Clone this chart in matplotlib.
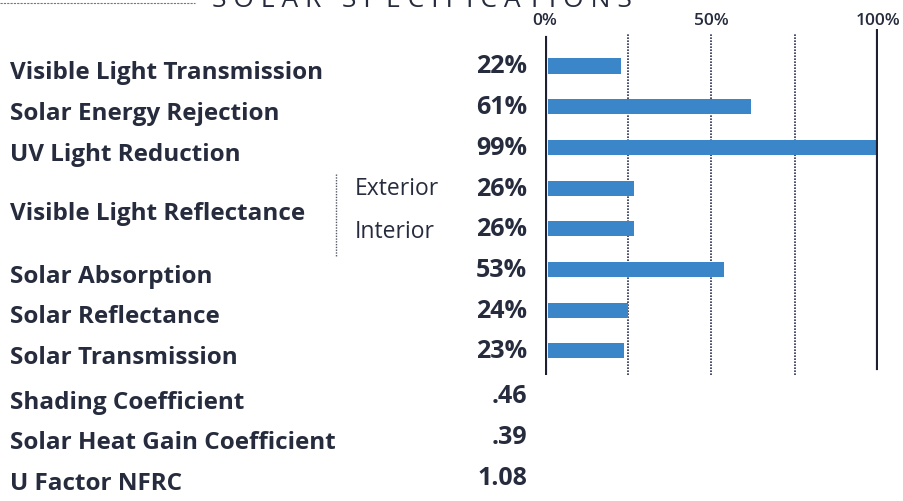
import matplotlib
matplotlib.use("Agg")
import matplotlib.pyplot as plt
from matplotlib.transforms import blended_transform_factory

# ---- data ----
bar_labels = ["Visible Light Transmission", "Solar Energy Rejection", "UV Light Reduction",
              "Exterior", "Interior", "Solar Absorption", "Solar Reflectance", "Solar Transmission"]
bar_values = [22, 61, 99, 26, 26, 53, 24, 23]
bar_value_text = ["22%", "61%", "99%", "26%", "26%", "53%", "24%", "23%"]
coef_labels = ["Shading Coefficient", "Solar Heat Gain Coefficient", "U Factor NFRC"]
coef_values = [".46", ".39", "1.08"]
tick_values = [0, 50, 100]
tick_labels = ["0%", "50%", "100%"]
grid_values = [25, 50, 75]
title = "SOLAR SPECIFICATIONS"

W, H = 904, 502
fig = plt.figure(figsize=(W / 100, H / 100), dpi=100)
fig.patch.set_facecolor("white")

FONT = "Open Sans"
INK = "#262c3d"
BLUE = "#3b86c8"

# axes: x 0 -> px 545, 100 -> px 878 ; y from px 30 to 376
x0, x1 = 545, 878
ytop, ybot = 30, 376
ax = fig.add_axes([x0 / W, 1 - ybot / H, (x1 - x0) / W, (ybot - ytop) / H])
row0, step = 67, 40.7
ax.set_xlim(0, 100)
ax.set_ylim((ybot - row0) / step, (ytop - row0) / step)
for s in ax.spines.values():
    s.set_visible(False)
ax.set_facecolor("none")

n = len(bar_values)
ypos = list(range(n))
ax.barh(ypos, bar_values, height=0.37, color=BLUE, left=0.8, zorder=2)

# axis lines
ax.axvline(0, color="#1c2030", lw=3, ymin=0.0, ymax=0.975, zorder=3)
ax.axvline(100, color="#1c2030", lw=3, ymin=0.02, ymax=0.995, zorder=3)
for g in grid_values:
    ax.axvline(g, color="#2a3050", lw=1.2, ls=(0, (1.0, 0.8)), ymin=0.0, ymax=0.985, zorder=1)

ax.xaxis.tick_top()
ax.set_xticks(tick_values)
ax.set_xticklabels(tick_labels, fontfamily=FONT, fontsize=12.5, color=INK, fontweight="semibold")
ax.tick_params(axis="x", length=0, pad=1)
ax.set_yticks([])

tr = blended_transform_factory(fig.transFigure, ax.transData)
lab_kw = dict(fontfamily=FONT, fontweight="bold", color=INK, fontsize=17.5, va="center",
              transform=tr, clip_on=False)
val_kw = dict(lab_kw, fontsize=18)

# left labels
left_x = 10 / W
for i, lab in enumerate(bar_labels):
    if lab in ("Exterior", "Interior"):
        continue
    ax.text(left_x, i + 0.15, lab, ha="left", **lab_kw)
ax.text(left_x, 3.5 + 0.1, "Visible Light Reflectance", ha="left", **lab_kw)
ax.text(355 / W, 3, "Exterior", ha="left", fontfamily=FONT, color=INK, fontsize=16.5,
        va="center", transform=tr, clip_on=False)
ax.text(355 / W, 4.05, "Interior", ha="left", fontfamily=FONT, color=INK, fontsize=16.5,
        va="center", transform=tr, clip_on=False)
ax.plot([336 / W, 336 / W], [2.65, 4.7], transform=tr, color="#555a66", lw=1,
        ls=(0, (1, 1)), clip_on=False)

# value labels
val_x = 527 / W
for i, v in enumerate(bar_value_text):
    ax.text(val_x, i, v, ha="right", **val_kw)
for j, (lab, v) in enumerate(zip(coef_labels, coef_values)):
    yy = n + j + 0.1
    ax.text(left_x, yy + 0.15, lab, ha="left", **lab_kw)
    ax.text(val_x, yy, v, ha="right", **val_kw)

# title (clipped at top, as in the reference)
fig.text(212 / W, 1 - 7 / H, " ".join(title[:5]) + "   " + " ".join(title[6:]),
         fontfamily=FONT, fontsize=19, color=INK, ha="left", va="baseline")
fig.add_artist(plt.Line2D([0, 195 / W], [1 - 4 / H, 1 - 4 / H], color="#777777", lw=0.8,
                          ls=(0, (2, 1))))

fig.savefig("out.png", dpi=100, facecolor="white")
